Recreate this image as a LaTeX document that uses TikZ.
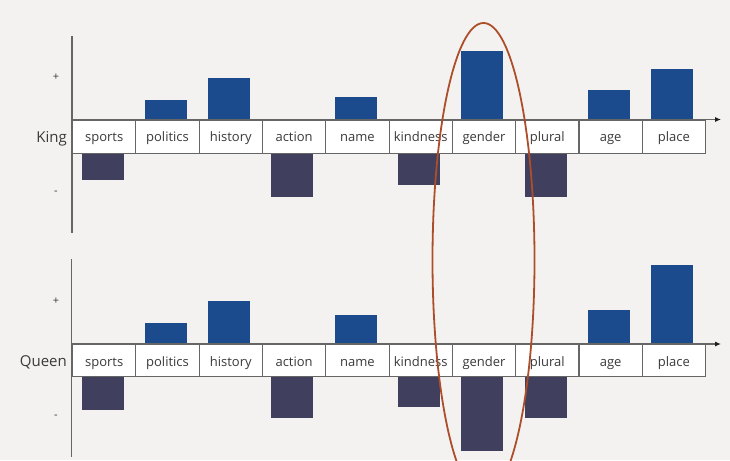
\documentclass[tikz,border=0pt]{standalone}
\usepackage{fontspec}
\setmainfont{Open Sans}
\usetikzlibrary{arrows.meta}
\definecolor{bgc}{HTML}{F4F2F1}
\definecolor{posc}{HTML}{1B4A8D}
\definecolor{negc}{HTML}{403F5E}
\definecolor{ringc}{HTML}{AC4E2A}
\definecolor{linec}{HTML}{666666}
\definecolor{txtc}{HTML}{3A3A3A}
\definecolor{tipc}{HTML}{1E1E1E}
\tikzset{
  cell/.style={draw=linec, line width=1.1pt, fill=white, minimum width=63.3pt, minimum height=33.8pt, anchor=north west, inner sep=0pt},
  celltext/.style={anchor=base, inner sep=0pt, font=\fontsize{13}{15}\selectfont, text=txtc},
  rowlabel/.style={anchor=base east, inner sep=0pt, font=\fontsize{15}{17}\selectfont, text=txtc},
  signlabel/.style={inner sep=0pt, font=\fontsize{11}{12}\selectfont, text=txtc},
  axis/.style={draw=linec, line width=1.4pt},
  haxis/.style={draw=linec, line width=1.1pt, -{Latex[length=6pt,width=5pt,color=tipc]}},
  posbar/.style={fill=posc},
  negbar/.style={fill=negc},
  ring/.style={draw=ringc, line width=1.8pt}
}
\newcommand{\barpos}[3]{\fill[posbar] ({72+63.3*#1+9.5},#2) rectangle ({72+63.3*#1+9.5+42},#3);}
\newcommand{\barneg}[3]{\fill[negbar] ({72+63.3*#1+9.5},#2) rectangle ({72+63.3*#1+9.5+42},#3);}
\begin{document}
\begin{tikzpicture}[x=1pt,y=-1pt]
\fill[bgc] (0,0) rectangle (730,460);
\useasboundingbox (0,0) rectangle (730,460);
% ---------- bars, King ----------
\barneg{0}{153}{180}
\barpos{1}{100}{119.5}
\barpos{2}{78.3}{119.5}
\barneg{3}{153}{197.3}
\barpos{4}{96.7}{119.5}
\barneg{5}{153}{185}
\barpos{6}{50.7}{119.5}
\barneg{7}{153}{197.3}
\barpos{8}{90}{119.5}
\barpos{9}{69}{119.5}
% ---------- bars, Queen ----------
\barneg{0}{376}{410}
\barpos{1}{322.7}{344}
\barpos{2}{301}{344}
\barneg{3}{376}{418.3}
\barpos{4}{314.7}{344}
\barneg{5}{376}{407.3}
\barneg{6}{376}{450.7}
\barneg{7}{376}{418.3}
\barpos{8}{310}{344}
\barpos{9}{265.3}{344}
% ---------- King row ----------
\node[cell] (k0) at (72,119.5) {};
\node[cell] (k1) at (135.3,119.5) {};
\node[cell] (k2) at (198.6,119.5) {};
\node[cell] (k3) at (261.9,119.5) {};
\node[cell] (k4) at (325.2,119.5) {};
\node[cell] (k5) at (388.5,119.5) {};
\node[cell] (k6) at (451.8,119.5) {};
\node[cell] (k7) at (515.1,119.5) {};
\node[cell] (k8) at (578.4,119.5) {};
\node[cell] (k9) at (641.7,119.5) {};
% ---------- Queen row ----------
\node[cell, minimum height=32pt] (q0) at (72,344) {};
\node[cell, minimum height=32pt] (q1) at (135.3,344) {};
\node[cell, minimum height=32pt] (q2) at (198.6,344) {};
\node[cell, minimum height=32pt] (q3) at (261.9,344) {};
\node[cell, minimum height=32pt] (q4) at (325.2,344) {};
\node[cell, minimum height=32pt] (q5) at (388.5,344) {};
\node[cell, minimum height=32pt] (q6) at (451.8,344) {};
\node[cell, minimum height=32pt] (q7) at (515.1,344) {};
\node[cell, minimum height=32pt] (q8) at (578.4,344) {};
\node[cell, minimum height=32pt] (q9) at (641.7,344) {};
% ---------- cell texts ----------
\node[celltext] (tk0) at ([yshift=-22pt]k0.north) {sports};
\node[celltext] (tk1) at ([yshift=-22pt]k1.north) {politics};
\node[celltext] (tk2) at ([yshift=-22pt]k2.north) {history};
\node[celltext] (tk3) at ([yshift=-22pt]k3.north) {action};
\node[celltext] (tk4) at ([yshift=-22pt]k4.north) {name};
\node[celltext] (tk5) at ([yshift=-22pt]k5.north) {kindness};
\node[celltext] (tk6) at ([yshift=-22pt]k6.north) {gender};
\node[celltext] (tk7) at ([yshift=-22pt]k7.north) {plural};
\node[celltext] (tk8) at ([yshift=-22pt]k8.north) {age};
\node[celltext] (tk9) at ([yshift=-22pt]k9.north) {place};
\node[celltext] (tq0) at ([yshift=-22pt]q0.north) {sports};
\node[celltext] (tq1) at ([yshift=-22pt]q1.north) {politics};
\node[celltext] (tq2) at ([yshift=-22pt]q2.north) {history};
\node[celltext] (tq3) at ([yshift=-22pt]q3.north) {action};
\node[celltext] (tq4) at ([yshift=-22pt]q4.north) {name};
\node[celltext] (tq5) at ([yshift=-22pt]q5.north) {kindness};
\node[celltext] (tq6) at ([yshift=-22pt]q6.north) {gender};
\node[celltext] (tq7) at ([yshift=-22pt]q7.north) {plural};
\node[celltext] (tq8) at ([yshift=-22pt]q8.north) {age};
\node[celltext] (tq9) at ([yshift=-22pt]q9.north) {place};
% ---------- axes ----------
\coordinate (kTop) at (72,36);
\coordinate (kBot) at (72,233);
\coordinate (kEnd) at (721,119.5);
\coordinate (qTop) at (71.5,259);
\coordinate (qBot) at (71.5,457);
\coordinate (qEnd) at (721,344);
\draw[axis] (kTop) -- (kBot);
\draw[axis] (qTop) -- (qBot);
\draw[haxis] (k0.north west) -- (kEnd);
\draw[haxis] (q0.north west) -- (qEnd);
% ---------- labels ----------
\node[rowlabel] (kinglbl) at (67,142.5) {King};
\node[rowlabel] (queenlbl) at (67,366.5) {Queen};
\node[signlabel] (kplus) at (56,77.5) {+};
\node[signlabel] (kminus) at (56,193) {-};
\node[signlabel] (qplus) at (56,301.5) {+};
\node[signlabel] (qminus) at (56,417) {-};
% ---------- highlight ring ----------
\draw[ring] (483.5,260) ellipse [x radius=51pt, y radius=237pt];
\end{tikzpicture}
\end{document}
